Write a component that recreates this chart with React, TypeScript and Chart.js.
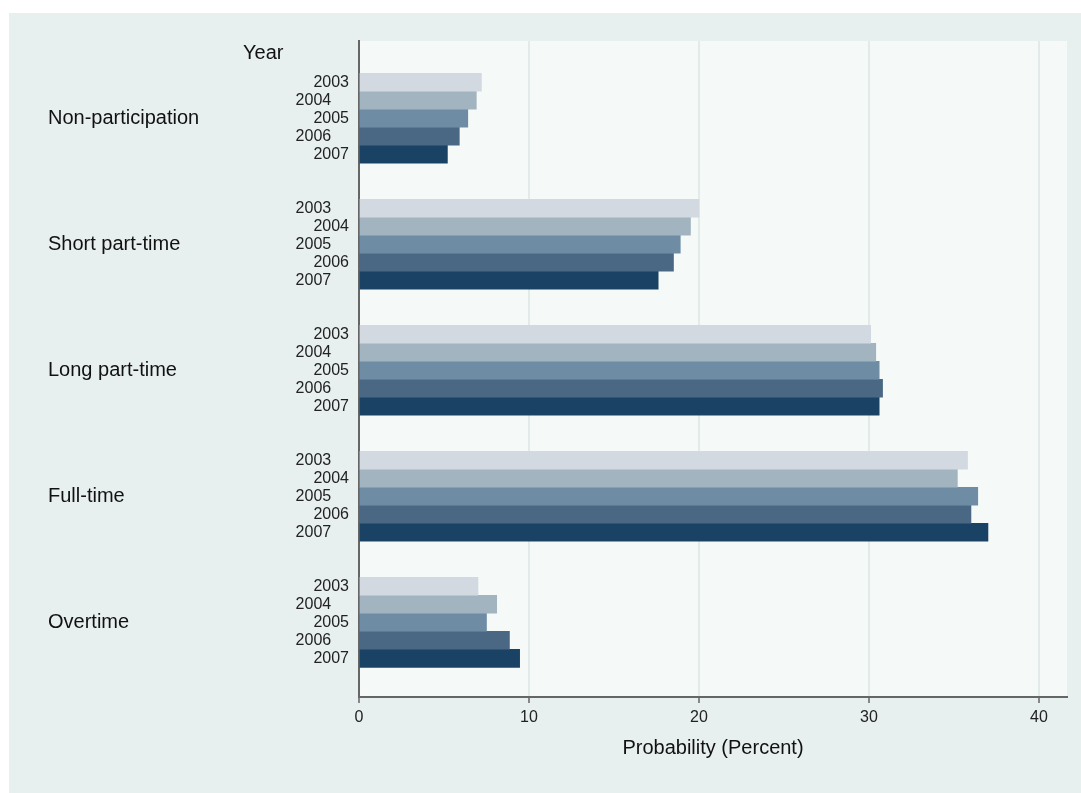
import React, { useEffect, useRef } from "react";
import { Chart, registerables } from "chart.js";

Chart.register(...registerables);

// ---- data ----
const GROUPS = ["Non-participation", "Short part-time", "Long part-time", "Full-time", "Overtime"];
const YEARS = ["2003", "2004", "2005", "2006", "2007"];
const Y2003 = [7.2, 20.0, 30.1, 35.8, 7.0];
const Y2004 = [6.9, 19.5, 30.4, 35.2, 8.1];
const Y2005 = [6.4, 18.9, 30.6, 36.4, 7.5];
const Y2006 = [5.9, 18.5, 30.8, 36.0, 8.85];
const Y2007 = [5.2, 17.6, 30.6, 37.0, 9.45];
const SERIES = [Y2003, Y2004, Y2005, Y2006, Y2007];
const X_TICKS = [0, 10, 20, 30, 40];
const X_TITLE = "Probability (Percent)";
const Y_TITLE = "Year";

// ---- style ----
const COLORS = ["#d2d9e0", "#a1b4bf", "#6e8da5", "#4a6884", "#1a4264"];
const FONT = '"Liberation Sans", Arial, Helvetica, sans-serif';
const OUTER_BG = "#e8efef";
const PLOT_BG = "#f5faf8";
const GRID = "#e2ebe9";
const AXIS = "#666666";

const SLOTS = YEARS.length + 2; // bars per group + gap
const Y_MIN = -2.29;
const Y_MAX = 34.15;
const X_MAX = 41.65;

const bgPlugin = {
  id: "plotBg",
  beforeDraw(chart: any) {
    const { ctx, chartArea } = chart;
    ctx.save();
    ctx.fillStyle = PLOT_BG;
    ctx.fillRect(chartArea.left, chartArea.top, chartArea.right - chartArea.left, chartArea.bottom - chartArea.top);
    ctx.restore();
  },
  afterDraw(chart: any) {
    const { ctx, chartArea } = chart;
    ctx.save();
    ctx.font = `20px ${FONT}`;
    ctx.fillStyle = "#111";
    ctx.textAlign = "left";
    ctx.textBaseline = "middle";
    ctx.fillText(Y_TITLE, chartArea.left - 116, chartArea.top + 12);
    ctx.restore();
  },
};

export default function App() {
  const ref = useRef<HTMLCanvasElement | null>(null);

  useEffect(() => {
    if (!ref.current) return;
    const yearTicks: { value: number }[] = [];
    GROUPS.forEach((_, g) => YEARS.forEach((__, k) => yearTicks.push({ value: g * SLOTS + k })));
    const groupTicks = GROUPS.map((_, g) => ({ value: g * SLOTS + (YEARS.length - 1) / 2 }));

    const chart = new Chart(ref.current, {
      type: "bar",
      data: {
        datasets: SERIES.map((vals, k) => ({
          label: YEARS[k],
          data: vals.map((v, g) => ({ x: v, y: g * SLOTS + k })),
          backgroundColor: COLORS[k],
          borderWidth: 0,
          grouped: false,
          barPercentage: 1,
          categoryPercentage: 1,
          xAxisID: "x",
          yAxisID: "y",
        })),
      } as any,
      plugins: [bgPlugin],
      options: {
        indexAxis: "y",
        animation: false,
        responsive: true,
        maintainAspectRatio: false,
        layout: { padding: { left: 39, right: 14, top: 28, bottom: 33 } },
        plugins: { legend: { display: false }, tooltip: { enabled: false } },
        scales: {
          x: {
            type: "linear",
            position: "bottom",
            min: 0,
            max: X_MAX,
            offset: false,
            afterBuildTicks: (s: any) => {
              s.ticks = X_TICKS.map((v) => ({ value: v }));
            },
            afterFit: (s: any) => {
              s.height = 63;
            },
            grid: {
              color: (c: any) => (c.tick && c.tick.value === 0 ? "rgba(0,0,0,0)" : GRID),
              lineWidth: 2,
              tickColor: AXIS,
              tickWidth: 1.5,
              tickLength: 6,
            },
            border: { color: AXIS, width: 2 },
            ticks: { autoSkip: false, maxRotation: 0, padding: 5, color: "#222", font: { family: FONT, size: 16 } },
            title: { display: true, text: X_TITLE, color: "#111", padding: 0, font: { family: FONT, size: 20 } },
          },
          y: {
            type: "linear",
            position: "left",
            reverse: true,
            offset: false,
            min: Y_MIN,
            max: Y_MAX,
            weight: 0,
            afterBuildTicks: (s: any) => {
              s.ticks = yearTicks.map((t) => ({ ...t }));
            },
            afterFit: (s: any) => {
              s.width = 111;
            },
            grid: { display: true, drawOnChartArea: false, drawTicks: false, offset: false },
            border: { color: AXIS, width: 2 },
            ticks: {
              autoSkip: false,
              padding: 10,
              color: "#222",
              font: { family: FONT, size: 16 },
              callback: (_v: any, i: number) => YEARS[i % YEARS.length] + (i % 2 ? "\u2007\u2007" : ""),
            },
          },
          yGroup: {
            type: "linear",
            position: "left",
            reverse: true,
            offset: false,
            min: Y_MIN,
            max: Y_MAX,
            weight: 1,
            afterBuildTicks: (s: any) => {
              s.ticks = groupTicks.map((t) => ({ ...t }));
            },
            afterFit: (s: any) => {
              s.width = 200;
            },
            grid: { display: false, drawTicks: false, offset: false },
            border: { display: false },
            ticks: {
              autoSkip: false,
              crossAlign: "far",
              padding: 0,
              color: "#111",
              font: { family: FONT, size: 20 },
              callback: (_v: any, i: number) => GROUPS[i],
            },
          },
        } as any,
      },
    });
    return () => chart.destroy();
  }, []);

  return (
    <div style={{ position: "fixed", left: 9, top: 13, right: 0, bottom: 0, background: OUTER_BG }}>
      <canvas ref={ref} />
    </div>
  );
}
